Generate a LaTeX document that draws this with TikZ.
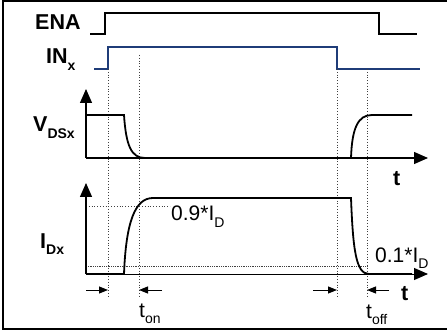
\documentclass[tikz,border=0pt]{standalone}
\usepackage{fontspec}
\setmainfont{Liberation Sans}
\usetikzlibrary{arrows.meta}
\definecolor{navy}{HTML}{1F3C78}
\newcommand{\subtxt}[1]{\raisebox{-0.3em}{\fontsize{14}{15}\selectfont #1}}
\begin{document}
\begin{tikzpicture}[x=1pt,y=-1pt,
  wave/.style={line width=1.8pt,line join=miter},
  axis/.style={line width=1.3pt,-{Triangle[length=14pt,width=12pt]}},
  guide/.style={line width=0.8pt,dotted,black!75},
  lbl/.style={inner sep=0pt,font=\fontsize{21.5}{24}\selectfont\bfseries},
  val/.style={inner sep=0pt,font=\fontsize{21}{24}\selectfont},
  dim/.style={line width=1pt,-{Triangle[length=9pt,width=7pt]}}]
\useasboundingbox (0,0) rectangle (447,331);
% frame
\draw[line width=1.6pt] (449,1) -- (3,1) -- (3,329) -- (449,329);
% labels
\node[lbl,anchor=base west] (ena) at (35,30) {ENA};
\node[lbl,anchor=base west] (inx) at (46,64) {IN\subtxt{x}};
\node[lbl,anchor=base west] (vds) at (33,132) {V\subtxt{DSx}};
\node[lbl,anchor=base west] (idx) at (40,248) {I\subtxt{Dx}};
% ENA
\draw[wave,line width=1.5pt] (90,34) -- (105,34) -- (105,13) -- (379,13) -- (379,34) -- (417,34);
% IN
\draw[wave,navy,line width=1.5pt] (94,69) -- (108,69) -- (108,47) -- (337,47) -- (337,69) -- (420,69);
% guides
\coordinate (g1t) at (108,69); \coordinate (g1b) at (108,297);
\coordinate (g2t) at (139,55); \coordinate (g2b) at (139,297);
\coordinate (g3t) at (337,69); \coordinate (g3b) at (337,297);
\coordinate (g4t) at (367,69); \coordinate (g4b) at (367,297);
\draw[guide] (g1t) -- (g1b);
\draw[guide] (g2t) -- (g2b);
\draw[guide] (g3t) -- (g3b);
\draw[guide] (g4t) -- (g4b);
% VDS axes
\coordinate (vo) at (86,158);
\coordinate (vy) at (86,89);
\coordinate (vx) at (428,158);
\draw[axis] (vo) -- (vy);
\draw[axis] (vo) -- (vx);
\draw[wave] (86,115) -- (124,115) .. controls (126,145) and (131,158) .. (145,158) -- (351,158)
  .. controls (352,128) and (358,115) .. (372,115) -- (412,115);
\node[lbl,anchor=base west] (tv) at (393,186) {t};
% ID axes
\coordinate (io) at (86,274);
\coordinate (iy) at (86,183);
\coordinate (ix) at (428,274);
\draw[guide] (86,206) -- (170,206);
\draw[guide,densely dotted] (86,266) -- (367,266);
\draw[axis,line width=1pt] (io) -- (ix);
\draw[axis] (io) -- (iy);
\draw[wave] (86,274) -- (124,274) .. controls (126,222) and (135,198) .. (153,198) -- (351,198)
  .. controls (353,250) and (356,274) .. (369,274) -- (412,274);
\node[val,anchor=base west] (l09) at (171,221) {0.9*I\subtxt{D}};
\node[val,anchor=base west] (l01) at (375,262) {0.1*I\subtxt{D}};
\node[lbl,anchor=base west] (ti) at (401,300) {t};
% dimension arrows
\coordinate (a1) at (86,290); \coordinate (a2) at (162,290);
\coordinate (a3) at (313,290); \coordinate (a4) at (389,290);
\draw[dim] (a1) -- (g1b |- a1);
\draw[dim] (a2) -- (g2b |- a2);
\draw[dim] (a3) -- (g3b |- a3);
\draw[dim] (a4) -- (g4b |- a4);
\node[val,anchor=base west] (ton) at (139,317) {t\subtxt{on}};
\node[val,anchor=base west] (toff) at (366,318) {t\subtxt{off}};
\end{tikzpicture}
\end{document}
